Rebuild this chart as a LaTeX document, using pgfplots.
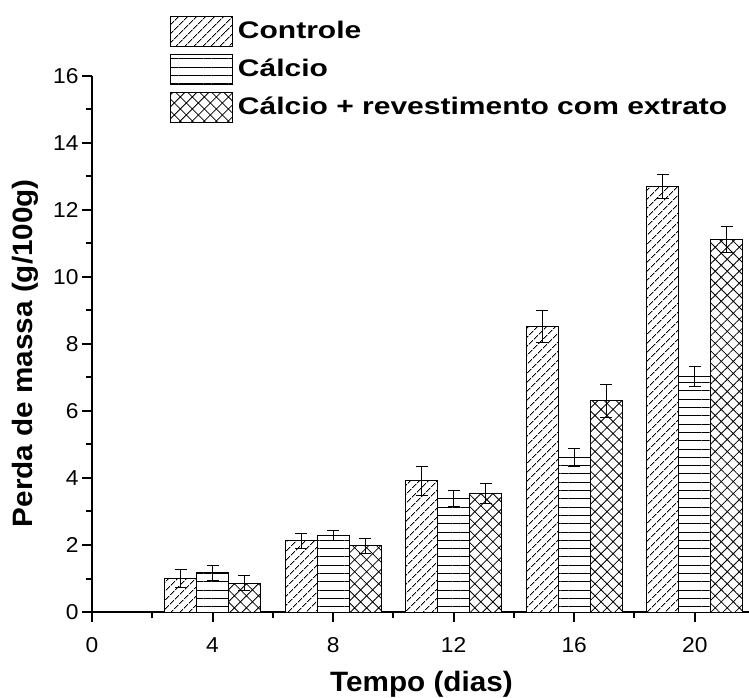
\documentclass[border=0pt]{standalone}
\usepackage{pgfplots}
\pgfplotsset{compat=1.18}
\usepackage{pgfplotstable}
\usetikzlibrary{patterns.meta}
\usepackage{fontspec}
\setmainfont[FakeStretch=1.06]{Liberation Sans}
\newfontfamily\legfont[FakeStretch=1.25]{Liberation Sans}

% day, mean mass loss, standard deviation
\pgfplotstableread{
x   y      e
4   1.00   0.27
8   2.12   0.23
12  3.92   0.43
16  8.52   0.49
20  12.70  0.35
}\controle
\pgfplotstableread{
x   y      e
4   1.17   0.23
8   2.28   0.16
12  3.39   0.23
16  4.62   0.27
20  7.02   0.30
}\calcio
\pgfplotstableread{
x   y      e
4   0.86   0.22
8   1.98   0.22
12  3.54   0.31
16  6.31   0.49
20  11.12  0.38
}\revest

\begin{document}
\begin{tikzpicture}
\begin{axis}[
  scale only axis,
  width=657pt, height=536pt,
  xmin=0, xmax=21.8, ymin=0, ymax=16,
  axis x line=bottom, axis y line=left,
  axis line style={-, line width=2pt, black},
  xtick={0,4,...,20}, ytick={0,2,...,16},
  minor x tick num=1, minor y tick num=1,
  tick align=outside,
  major tick length=10pt, minor tick length=6pt,
  every tick/.style={black, line width=2pt},
  /pgf/number format/assume math mode=true,
  ticklabel style={font=\fontsize{21.5}{25}\selectfont},
  xticklabel style={yshift=-12pt},
  xlabel={Tempo (dias)},
  ylabel={Perda de massa (g/100g)},
  label style={font=\fontsize{28}{32}\selectfont\bfseries},
  xlabel style={at={(axis description cs:0.5015,-0.134)}, anchor=center},
  ylabel style={at={(axis description cs:-0.102,0.483)}, anchor=center},
  ybar, bar width=1.06,
  every axis plot/.append style={draw=black, line width=1pt},
  error bars/y dir=both, error bars/y explicit,
  error bars/error bar style={line width=1pt, black},
  error bars/error mark options={rotate=90, mark size=6pt, line width=1pt, black},
  legend style={
    at={(axis description cs:0.1187,1.112)}, anchor=north west,
    draw=none, fill=none, inner sep=0pt, outer sep=0pt,
    row sep=7pt, column sep=5pt,
    font=\legfont\fontsize{24}{28}\selectfont\bfseries,
    nodes={inner sep=0pt},
  },
  legend cell align=left,
  legend image code/.code={\draw[#1, line width=1pt] (0pt,-16pt) rectangle (62pt,14pt);},
]
\addplot[bar shift=-1.06, fill=white, postaction={pattern={Lines[angle=45, distance=6.5pt, line width=1pt]}}]
  table[x=x, y=y, y error=e] {\controle};
\addlegendentry{Controle}
\addplot[bar shift=0, fill=white, postaction={pattern={Lines[angle=0, distance=8.3pt, line width=0.9pt]}}]
  table[x=x, y=y, y error=e] {\calcio};
\addlegendentry{Cálcio}
\addplot[bar shift=1.06, fill=white, postaction={pattern={Hatch[angle=45, distance=8.5pt, line width=0.8pt]}}]
  table[x=x, y=y, y error=e] {\revest};
\addlegendentry{Cálcio + revestimento com extrato}
\end{axis}
\pgfresetboundingbox
\path (-92pt,-86pt) rectangle (657pt,612pt);
\end{tikzpicture}
\end{document}
